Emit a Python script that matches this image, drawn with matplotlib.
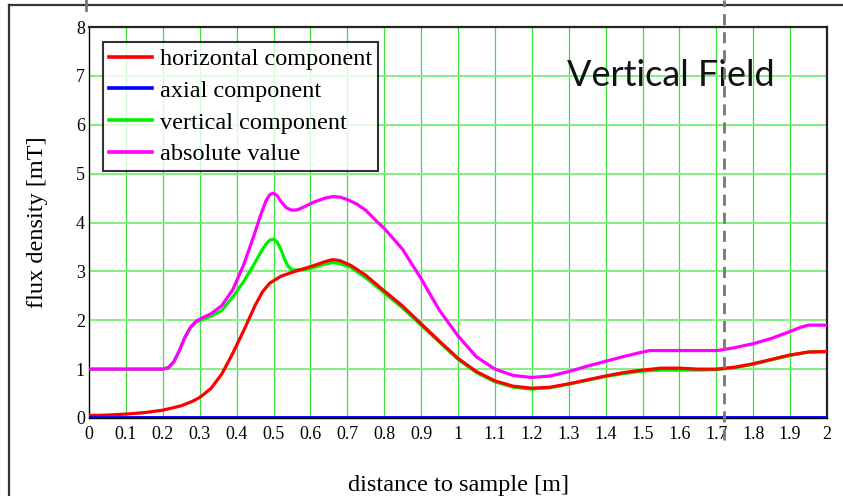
import matplotlib.pyplot as plt
from matplotlib.lines import Line2D

# ---------- DATA ----------
x_abs = [0, 0.1, 0.2, 0.215, 0.23, 0.245, 0.26, 0.275, 0.29, 0.31, 0.33, 0.36, 0.39, 0.42,
         0.45, 0.465, 0.48, 0.49, 0.5, 0.51, 0.52, 0.535, 0.55, 0.565, 0.58, 0.61, 0.64,
         0.66, 0.68, 0.70, 0.725, 0.75, 0.78, 0.80, 0.85, 0.90, 0.95, 1.00, 1.05, 1.10,
         1.15, 1.20, 1.25, 1.30, 1.35, 1.40, 1.45, 1.50, 1.52, 1.60, 1.70, 1.72, 1.75,
         1.80, 1.85, 1.90, 1.93, 1.95, 2.0]
b_abs = [1.0, 1.0, 1.0, 1.03, 1.15, 1.38, 1.65, 1.86, 1.98, 2.06, 2.13, 2.3, 2.63, 3.15,
         3.8, 4.15, 4.45, 4.57, 4.6, 4.55, 4.43, 4.3, 4.25, 4.26, 4.31, 4.42, 4.5,
         4.53, 4.52, 4.47, 4.38, 4.25, 4.02, 3.88, 3.45, 2.85, 2.2, 1.68, 1.25, 1.0,
         0.87, 0.83, 0.86, 0.95, 1.06, 1.16, 1.26, 1.35, 1.38, 1.38, 1.38, 1.40, 1.44,
         1.52, 1.63, 1.77, 1.86, 1.9, 1.9]

x_vert = [0, 0.1, 0.2, 0.215, 0.23, 0.245, 0.26, 0.275, 0.29, 0.31, 0.33, 0.36, 0.39, 0.42,
          0.45, 0.47, 0.48, 0.49, 0.5, 0.51, 0.52, 0.53, 0.54, 0.55, 0.58, 0.61, 0.64,
          0.66, 0.68, 0.71, 0.75, 0.80, 0.85, 0.89, 0.95, 1.00, 1.05, 1.10, 1.15, 1.20,
          1.25, 1.30, 1.35, 1.40, 1.45, 1.50, 1.55, 1.60, 1.65, 1.70, 1.75, 1.80, 1.85,
          1.90, 1.95, 2.0]
b_vert = [1.0, 1.0, 1.0, 1.03, 1.15, 1.38, 1.65, 1.85, 1.96, 2.02, 2.08, 2.2, 2.48, 2.8,
          3.18, 3.45, 3.56, 3.64, 3.66, 3.6, 3.45, 3.25, 3.1, 3.03, 3.03, 3.08, 3.15,
          3.18, 3.16, 3.08, 2.87, 2.56, 2.25, 1.97, 1.55, 1.2, 0.93, 0.74, 0.63, 0.59,
          0.62, 0.69, 0.77, 0.85, 0.91, 0.96, 0.98, 0.98, 0.98, 0.99, 1.03, 1.1, 1.19,
          1.28, 1.35, 1.36]

x_hor = [0, 0.05, 0.1, 0.15, 0.2, 0.25, 0.28, 0.3, 0.33, 0.36, 0.39, 0.42, 0.45, 0.47, 0.49,
         0.52, 0.55, 0.58, 0.61, 0.64, 0.66, 0.68, 0.71, 0.75, 0.80, 0.85, 0.89, 0.95,
         1.00, 1.05, 1.10, 1.15, 1.20, 1.25, 1.30, 1.35, 1.40, 1.45, 1.50, 1.55, 1.60,
         1.65, 1.70, 1.75, 1.80, 1.85, 1.90, 1.95, 2.0]
b_hor = [0.05, 0.06, 0.08, 0.11, 0.16, 0.25, 0.34, 0.42, 0.6, 0.9, 1.33, 1.8, 2.3, 2.58, 2.76,
         2.9, 2.98, 3.05, 3.12, 3.2, 3.24, 3.22, 3.12, 2.92, 2.6, 2.29, 2.0, 1.57,
         1.22, 0.95, 0.76, 0.65, 0.61, 0.63, 0.7, 0.78, 0.86, 0.93, 0.98, 1.02, 1.02,
         1.0, 1.0, 1.04, 1.11, 1.2, 1.29, 1.35, 1.36]

x_ax = [0, 2.0]
b_ax = [0, 0]

x_ticks = [round(0.1 * i, 1) for i in range(21)]
x_tick_labels = [f"{v:g}" for v in x_ticks]
y_ticks = list(range(9))

marker_x = 1.72

# ---------- FIGURE ----------
plt.rcParams['font.family'] = ['Liberation Serif', 'DejaVu Serif']
fig = plt.figure(figsize=(8.43, 4.96), dpi=100)
ax = fig.add_axes([89 / 843, 1 - 418 / 496, (827 - 89) / 843, (418 - 27) / 496])

# grid
for xv in x_ticks[1:-1]:
    ax.axvline(xv, color='#3ee03e', lw=0.9, zorder=1)
for yv in y_ticks[1:-1]:
    ax.axhline(yv, color='#80f080', lw=1.4, zorder=1)

ax.plot(x_hor, b_hor, color='#ff0000', lw=2.3, zorder=4, label='horizontal component')
ax.plot(x_ax, b_ax, color='#0000ff', lw=2.8, zorder=5, label='axial component')
ax.plot(x_vert, b_vert, color='#00ee00', lw=2.3, zorder=3, label='vertical component')
ax.plot(x_abs, b_abs, color='#ff00ff', lw=2.3, zorder=3, label='absolute value')

ax.set_xlim(0, 2)
ax.set_ylim(0, 8)
ax.set_xticks(x_ticks)
ax.set_xticklabels(x_tick_labels)
ax.set_yticks(y_ticks)
ax.tick_params(length=0, labelsize=13, pad=6)
ax.tick_params(axis='y', pad=3)
for side in ['top', 'right']:
    ax.spines[side].set_linewidth(1.6)
    ax.spines[side].set_color('#222222')
ax.spines['left'].set_linewidth(1.0)
ax.spines['bottom'].set_linewidth(1.0)

ax.set_xlabel('distance to sample [m]', fontsize=17.5, labelpad=23)
ax.set_ylabel('flux density [mT]', fontsize=17.5, labelpad=20)

leg = ax.legend(loc='upper left', bbox_to_anchor=(14 / 738, 1 - 15 / 391), fontsize=17.5,
                frameon=True, fancybox=False, handlelength=1.75, handletextpad=0.35,
                borderpad=0.25, labelspacing=0.4, borderaxespad=0)
leg.get_frame().set_edgecolor('black')
leg.get_frame().set_linewidth(1.5)
for h in leg.get_lines():
    h.set_linewidth(2.6)

ax.text(1.295, 7.0, 'Vertical Field', fontsize=26, family='Lato',
        ha='left', va='center', color='#111111', zorder=6)

# page frame and dashed marker lines
fig.add_artist(Line2D([9 / 843, 9 / 843], [0, 1 - 5 / 496], color='#333333', lw=1.6))
fig.add_artist(Line2D([9 / 843, 1], [1 - 5 / 496, 1 - 5 / 496], color='#333333', lw=1.6))
mx = ax.transData.transform((marker_x, 0))[0] / fig.bbox.width
fig.add_artist(Line2D([mx, mx], [1 - 440 / 496, 1], color='#777777', lw=2.0,
                      linestyle=(0, (4, 2.5)), zorder=7))
fig.add_artist(Line2D([86 / 843, 86 / 843], [1 - 10 / 496, 1], color='#777777', lw=2.0))

fig.savefig('out.png', dpi=100)
